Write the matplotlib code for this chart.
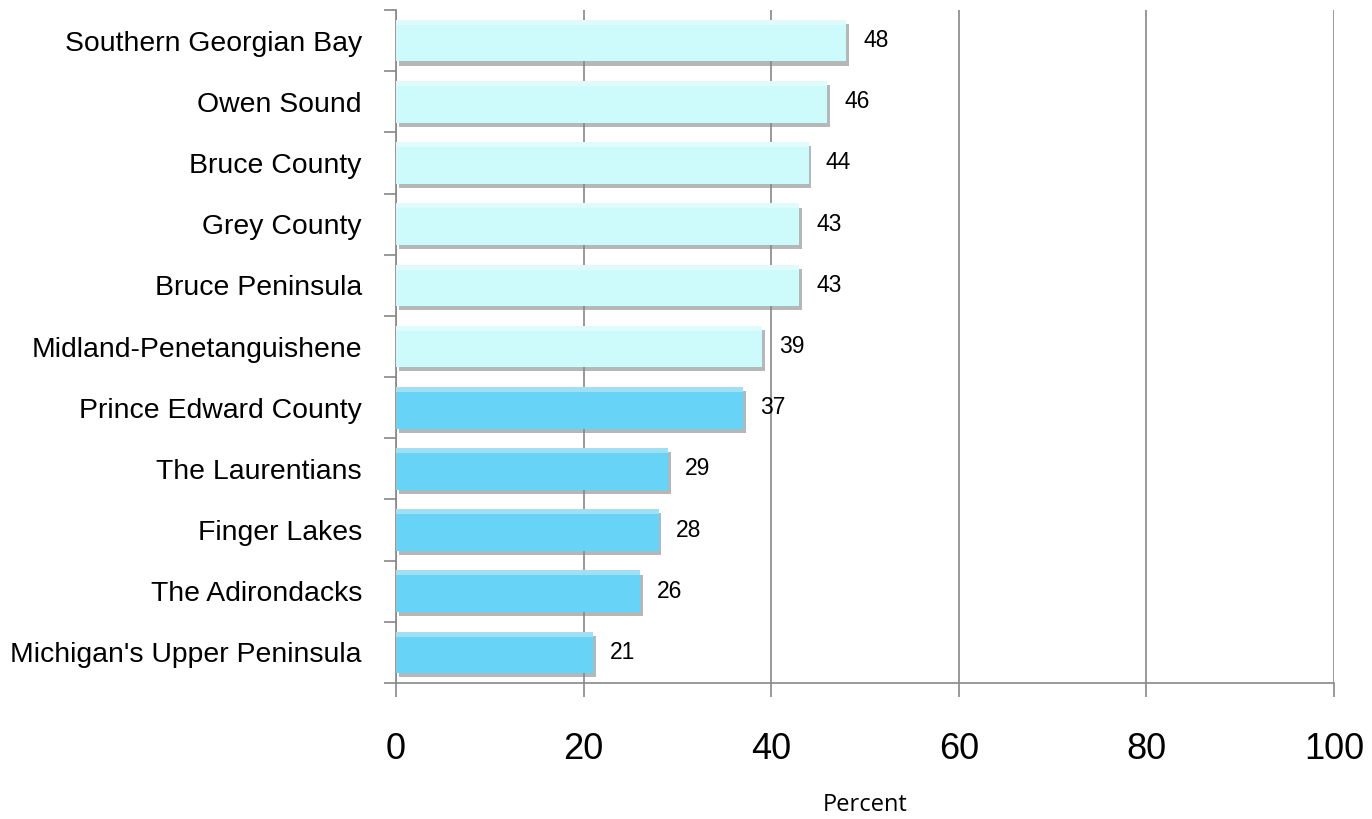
import matplotlib.pyplot as plt
import matplotlib.patheffects as pe
import numpy as np

regions = ["Southern Georgian Bay", "Owen Sound", "Bruce County", "Grey County",
           "Bruce Peninsula", "Midland-Penetanguishene", "Prince Edward County",
           "The Laurentians", "Finger Lakes", "The Adirondacks",
           "Michigan's Upper Peninsula"]
percent = [48, 46, 44, 43, 43, 39, 37, 29, 28, 26, 21]
group_colors = ["#cdfbfb"] * 6 + ["#66d3f7"] * 5
xticks = [0, 20, 40, 60, 80, 100]

plt.rcParams['font.family'] = ['Liberation Sans', 'DejaVu Sans']

fig = plt.figure(figsize=(13.72, 8.19), dpi=100)
ax = fig.add_axes([0.2886, 0.166, 0.6837, 0.8218])

y = np.arange(len(regions))[::-1]
bars = ax.barh(y, percent, height=0.68, color=group_colors, zorder=3,
               edgecolor="none")
for b in bars:
    b.set_path_effects([pe.SimplePatchShadow(offset=(2, -3), shadow_rgbFace="#888888", alpha=0.6),
                        pe.Normal()])
    # light top strip to hint at the bevel
    x0, y0 = b.get_x(), b.get_y()
    w, h = b.get_width(), b.get_height()
    ax.barh(y0 + h * 0.88, w, height=h * 0.12, left=x0, align="edge",
            color="white", alpha=0.35, zorder=4, edgecolor="none")

for yi, v in zip(y, percent):
    ax.text(v + 1.8, yi, str(v), va="center", ha="left", fontsize=16.5, zorder=5)

ax.set_xlim(0, 100)
ax.set_ylim(-0.5, len(regions) - 0.5)
ax.set_xticks(xticks)
ax.set_xticklabels([str(t) for t in xticks], fontsize=26)
ax.set_yticks(y)
ax.set_yticklabels(regions, fontsize=20.4)
ax.tick_params(axis="y", which="major", length=0, pad=24.5)
ax.set_yticks(np.arange(-0.5, len(regions), 1.0), minor=True)
ax.tick_params(axis="y", which="minor", length=9, color="#888888", width=1.2)
ax.tick_params(axis="x", length=10, color="#888888", width=1.2, pad=25)

ax.grid(axis="x", color="#888888", linewidth=1.2, zorder=0)
for s in ["top", "right"]:
    ax.spines[s].set_visible(False)
for s in ["left", "bottom"]:
    ax.spines[s].set_color("#888888")
    ax.spines[s].set_linewidth(1.2)

ax.set_xlabel("Percent", fontsize=17, family=["Open Sans", "DejaVu Sans"], labelpad=19)

fig.savefig("out.png", dpi=100)
